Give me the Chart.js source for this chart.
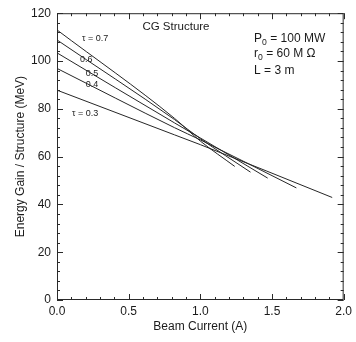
<!DOCTYPE html>
<html>
<head>
<meta charset="utf-8">
<script src="https://cdn.jsdelivr.net/npm/chart.js@4/dist/chart.umd.min.js"></script>
<style>
  html, body { margin: 0; padding: 0; background: #fff; }
  #wrap { width: 356px; height: 342px; }
</style>
</head>
<body>
<div id="wrap"><canvas id="c" width="356" height="342"></canvas></div>
<script>
// ---- data ----
const tauLabels = ['0.7', '0.6', '0.5', '0.4', '0.3'];
const current07 = [0, 0.82, 1.0, 1.24];
const gain07    = [113, 76, 66.5, 55.9];
const current06 = [0, 0.82, 1.0, 1.35];
const gain06    = [108.8, 75.5, 67.5, 53.5];
const current05 = [0, 0.82, 1.0, 1.47];
const gain05    = [103.4, 74.1, 67.8, 51.0];
const current04 = [0, 0.82, 1.0, 1.67];
const gain04    = [96.9, 72.1, 67.0, 46.9];
const current03 = [0, 0.82, 1.0, 1.92];
const gain03    = [87.8, 69.1, 65.0, 42.9];
const xTicks = [0, 0.5, 1.0, 1.5, 2.0];
const yTicks = [0, 20, 40, 60, 80, 100, 120];

const seriesX = [current07, current06, current05, current04, current03];
const seriesY = [gain07, gain06, gain05, gain04, gain03];

const datasets = seriesX.map((xs, i) => ({
  label: 'τ = ' + tauLabels[i],
  data: xs.map((x, j) => ({ x: x, y: seriesY[i][j] })),
  borderColor: '#262626',
  borderWidth: 1,
  pointRadius: 0,
  fill: false,
  cubicInterpolationMode: 'monotone'
}));

const FONT = '"Liberation Sans", Arial, Helvetica, sans-serif';

function drawSub(ctx, x, y, parts, size) {
  // parts: [[text, isSub], ...]
  let cx = x;
  parts.forEach(p => {
    if (p[1]) {
      ctx.font = (size * 0.72) + 'px ' + FONT;
      ctx.fillText(p[0], cx, y + size * 0.3);
    } else {
      ctx.font = size + 'px ' + FONT;
      ctx.fillText(p[0], cx, y);
    }
    cx += ctx.measureText(p[0]).width;
  });
}

const framePlugin = {
  id: 'frame',
  afterDatasetsDraw(chart) {
    const ctx = chart.ctx;
    const a = chart.chartArea;
    const xs = chart.scales.x, ys = chart.scales.y;
    ctx.save();
    ctx.strokeStyle = '#2a2a2a';
    ctx.lineWidth = 1;
    ctx.strokeRect(a.left + 0.5, a.top + 0.5, a.right - a.left - 1, a.bottom - a.top - 1);
    ctx.beginPath();
    // x ticks (major and minor), inward on bottom and top
    for (let k = 0; k <= 20; k++) {
      const v = k * 0.1;
      const px = Math.round(xs.getPixelForValue(v)) + 0.5;
      const len = (k % 5 === 0) ? 6 : 3;
      ctx.moveTo(px, a.bottom); ctx.lineTo(px, a.bottom - len);
      ctx.moveTo(px, a.top); ctx.lineTo(px, a.top + len);
    }
    // y ticks, inward on left and right
    for (let k = 0; k <= 30; k++) {
      const v = k * 4;
      const py = Math.round(ys.getPixelForValue(v)) + 0.5;
      const len = (v % 20 === 0) ? 6 : 3;
      ctx.moveTo(a.left, py); ctx.lineTo(a.left + len, py);
      ctx.moveTo(a.right, py); ctx.lineTo(a.right - len, py);
    }
    ctx.stroke();

    ctx.fillStyle = '#1a1a1a';
    ctx.textBaseline = 'middle';
    // title
    ctx.textAlign = 'center';
    ctx.font = '11.5px ' + FONT;
    ctx.fillText('CG Structure', xs.getPixelForValue(0.83), ys.getPixelForValue(114.3));
    // parameters
    ctx.textAlign = 'left';
    const px0 = xs.getPixelForValue(1.375);
    drawSub(ctx, px0, ys.getPixelForValue(109.4), [['P', false], ['0', true], [' = 100 MW', false]], 12);
    drawSub(ctx, px0, ys.getPixelForValue(102.9), [['r', false], ['0', true], [' = 60 M Ω', false]], 12);
    drawSub(ctx, px0, ys.getPixelForValue(95.9), [['L = 3 m', false]], 12);
    // tau labels
    ctx.font = '9px ' + FONT;
    ctx.fillText('τ = 0.7', xs.getPixelForValue(0.174), ys.getPixelForValue(109.4));
    ctx.fillText('0.6', xs.getPixelForValue(0.16), ys.getPixelForValue(100.8));
    ctx.fillText('0.5', xs.getPixelForValue(0.2), ys.getPixelForValue(94.7));
    ctx.fillText('0.4', xs.getPixelForValue(0.2), ys.getPixelForValue(90.2));
    ctx.fillText('τ = 0.3', xs.getPixelForValue(0.104), ys.getPixelForValue(78));
    ctx.restore();
  }
};

new Chart(document.getElementById('c'), {
  type: 'line',
  data: { datasets: datasets },
  options: {
    responsive: false,
    animation: false,
    layout: { padding: { top: 6, right: 11, left: 0, bottom: 0 } },
    plugins: { legend: { display: false }, tooltip: { enabled: false } },
    scales: {
      x: {
        type: 'linear', min: 0, max: 2,
        afterBuildTicks: s => { s.ticks = xTicks.map(v => ({ value: v })); },
        ticks: { color: '#1a1a1a', font: { family: FONT, size: 12 }, padding: 4,
                 maxRotation: 0, callback: v => Number(v).toFixed(1) },
        grid: { display: false, drawTicks: false },
        border: { display: false },
        title: { display: true, text: 'Beam Current (A)', color: '#1a1a1a',
                 font: { family: FONT, size: 12 }, padding: { top: 0, bottom: 8 } },
        afterFit: s => { s.height = 42; }
      },
      y: {
        type: 'linear', min: 0, max: 120,
        afterBuildTicks: s => { s.ticks = yTicks.map(v => ({ value: v })); },
        ticks: { color: '#1a1a1a', font: { family: FONT, size: 12 }, padding: 6 },
        grid: { display: false, drawTicks: false },
        border: { display: false },
        title: { display: true, text: 'Energy Gain / Structure (MeV)', color: '#1a1a1a',
                 font: { family: FONT, size: 12 }, padding: { top: 13, bottom: 0 } },
        afterFit: s => { s.width = 57; }
      }
    }
  },
  plugins: [framePlugin]
});
</script>
</body>
</html>
